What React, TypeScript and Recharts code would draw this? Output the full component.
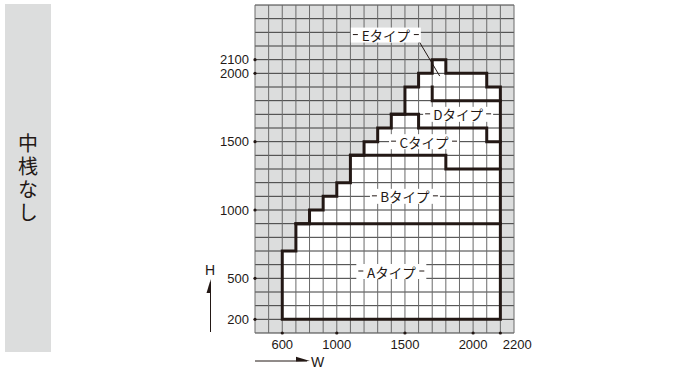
import { ComposedChart, Area, Line, Scatter, XAxis, YAxis, ReferenceArea, ReferenceLine } from 'recharts'

const INK = '#231815'
const GREY = '#dcdddd'

// axis ticks
const xTicks = [600, 1000, 1500, 2000, 2200]
const yTicks = [200, 500, 1000, 1500, 2000, 2100]

// 100mm grid
const gridW = [400, 500, 600, 700, 800, 900, 1000, 1100, 1200, 1300, 1400, 1500, 1600, 1700, 1800, 1900, 2000, 2100, 2200, 2300]
const gridH = [100, 200, 300, 400, 500, 600, 700, 800, 900, 1000, 1100, 1200, 1300, 1400, 1500, 1600, 1700, 1800, 1900, 2000, 2100, 2200, 2300, 2400, 2500]

// upper limit of H for each W step (white zone)
const profileW = [600, 700, 800, 900, 1000, 1100, 1200, 1300, 1400, 1500, 1600, 1700, 1800, 2100, 2200]
const profileH = [700, 900, 1000, 1100, 1200, 1400, 1500, 1600, 1700, 1900, 2000, 2100, 2000, 1900, 1900]

// thick outlines [W, H]
const outerOutline = [
  [600, 200], [600, 700], [700, 700], [700, 900], [800, 900], [800, 1000], [900, 1000], [900, 1100],
  [1000, 1100], [1000, 1200], [1100, 1200], [1100, 1400], [1200, 1400], [1200, 1500], [1300, 1500],
  [1300, 1600], [1400, 1600], [1400, 1700], [1500, 1700], [1500, 1900], [1600, 1900], [1600, 2000],
  [1700, 2000], [1700, 2100], [1800, 2100], [1800, 2000], [2100, 2000], [2100, 1900], [2200, 1900],
  [2200, 200], [600, 200],
]
const lineAB = [[700, 900], [2200, 900]]
const lineBC = [[1100, 1400], [1800, 1400], [1800, 1300], [2200, 1300]]
const lineCD = [[1400, 1700], [1600, 1700], [1600, 1600], [2100, 1600], [2100, 1500], [2200, 1500]]
const lineDE = [[1700, 1900], [1700, 1800], [2200, 1800]]
const leaderE = [[1570, 2290], [1755, 1980]]

const typeNames = ['Aタイプ', 'Bタイプ', 'Cタイプ', 'Dタイプ', 'Eタイプ']
const typeLabelW = [1400, 1500, 1640, 1890, 1360]
const typeLabelH = [550, 1100, 1500, 1700, 2280]

const toPts = (arr: number[][]) => arr.map(([w, h]) => ({ w, h }))
const profile = profileW.map((w, i) => ({ w, h: profileH[i] }))
const labels = typeNames.map((text, i) => ({ w: typeLabelW[i], h: typeLabelH[i], text }))
const outlines = [outerOutline, lineAB, lineBC, lineCD, lineDE]

const numFont = "'Liberation Sans', Arial, sans-serif"
const jpFont = "'Noto Sans CJK JP', sans-serif"

function YTick({ x, y, payload }: any) {
  return (
    <g>
      <circle cx={x} cy={y} r={1.6} fill={INK} />
      <text x={x - 6} y={y} textAnchor="end" dominantBaseline="central" fontSize={13} fontFamily={numFont} fill={INK}>
        {payload.value}
      </text>
    </g>
  )
}

function XTick({ x, y, payload }: any) {
  const last = payload.value === 2200
  return (
    <g>
      <circle cx={x} cy={y} r={1.6} fill={INK} />
      <text x={last ? x + 2.5 : x} y={y + 11} textAnchor={last ? 'start' : 'middle'} dominantBaseline="central" fontSize={13} fontFamily={numFont} fill={INK}>
        {payload.value}
      </text>
    </g>
  )
}

function TypeLabel({ cx, cy, payload }: any) {
  const w = 70
  const l = cx - w / 2
  return (
    <g>
      <rect x={l} y={cy - 7.5} width={w} height={15} fill="#fff" />
      <line x1={l + 2} y1={cy - 0.5} x2={l + 7} y2={cy - 0.5} stroke={INK} strokeWidth={1} />
      <line x1={l + w - 7} y1={cy - 0.5} x2={l + w - 2} y2={cy - 0.5} stroke={INK} strokeWidth={1} />
      <text x={cx} y={cy} textAnchor="middle" dominantBaseline="central" fontSize={13.5} fontFamily={jpFont} fill={INK}>
        {payload.text}
      </text>
    </g>
  )
}

export default function App() {
  return (
    <div style={{ position: 'absolute', left: 0, top: 0, width: 694, height: 376, background: '#fff' }}>
      <ComposedChart width={694} height={376} margin={{ top: 5, right: 180, bottom: 13, left: 195 }}>
        <XAxis type="number" dataKey="w" domain={[400, 2300]} ticks={xTicks} interval={0} allowDataOverflow
          axisLine={false} tickLine={false} tickSize={0} tickMargin={0} height={30} tick={<XTick />} />
        <YAxis type="number" dataKey="h" domain={[100, 2500]} ticks={yTicks} interval={0} allowDataOverflow
          axisLine={false} tickLine={false} tickSize={0} tickMargin={0} width={60} tick={<YTick />} />
        <ReferenceArea x1={400} x2={2300} y1={100} y2={2500} fill={GREY} fillOpacity={1} stroke="none" zIndex={10} />
        <Area data={profile} dataKey="h" type="stepAfter" baseValue={200} fill="#fff" fillOpacity={1}
          stroke="none" isAnimationActive={false} dot={false} activeDot={false} zIndex={20} />
        {gridH.map(h => (
          <ReferenceLine key={'h' + h} y={h} stroke="#3a3a3a" strokeWidth={1} zIndex={30} />
        ))}
        {gridW.map(w => (
          <ReferenceLine key={'w' + w} x={w} stroke="#6a6a6a" strokeWidth={1} zIndex={30} />
        ))}
        {outlines.map((o, i) => (
          <Line key={'o' + i} id={'o' + i} data={toPts(o)} dataKey="h" type="linear" stroke={INK} strokeWidth={3}
            strokeLinecap="square" dot={false} activeDot={false} isAnimationActive={false} zIndex={40} />
        ))}
        <Line data={toPts(leaderE)} dataKey="h" type="linear" stroke={INK} strokeWidth={1}
          dot={false} activeDot={false} isAnimationActive={false} zIndex={45} />
        <Scatter data={labels} dataKey="h" shape={(p: any) => <TypeLabel {...p} />} isAnimationActive={false} zIndex={50} />
      </ComposedChart>

      <svg width={694} height={376} style={{ position: 'absolute', left: 0, top: 0, pointerEvents: 'none' }}>
        <rect x={5} y={4} width={46} height={348} fill={GREY} />
        <text x={28} y={133} fontSize={20} fontFamily={jpFont} fill={INK} letterSpacing={3}
          style={{ writingMode: 'vertical-rl' }}>
          中桟なし
        </text>
        <line x1={210.5} y1={332} x2={210.5} y2={282} stroke={INK} strokeWidth={1} />
        <polygon points="210.8,279 206.5,293 210.8,293" fill={INK} />
        <text x={210} y={270} textAnchor="middle" dominantBaseline="central" fontSize={14} fontFamily={numFont} fill={INK}>H</text>
        <line x1={255} y1={361} x2={307} y2={361} stroke={INK} strokeWidth={1} />
        <polygon points="296,356.8 310,361 296,361.4" fill={INK} />
        <text x={311} y={362} textAnchor="start" dominantBaseline="central" fontSize={14} fontFamily={numFont} fill={INK}>W</text>
      </svg>
    </div>
  )
}
